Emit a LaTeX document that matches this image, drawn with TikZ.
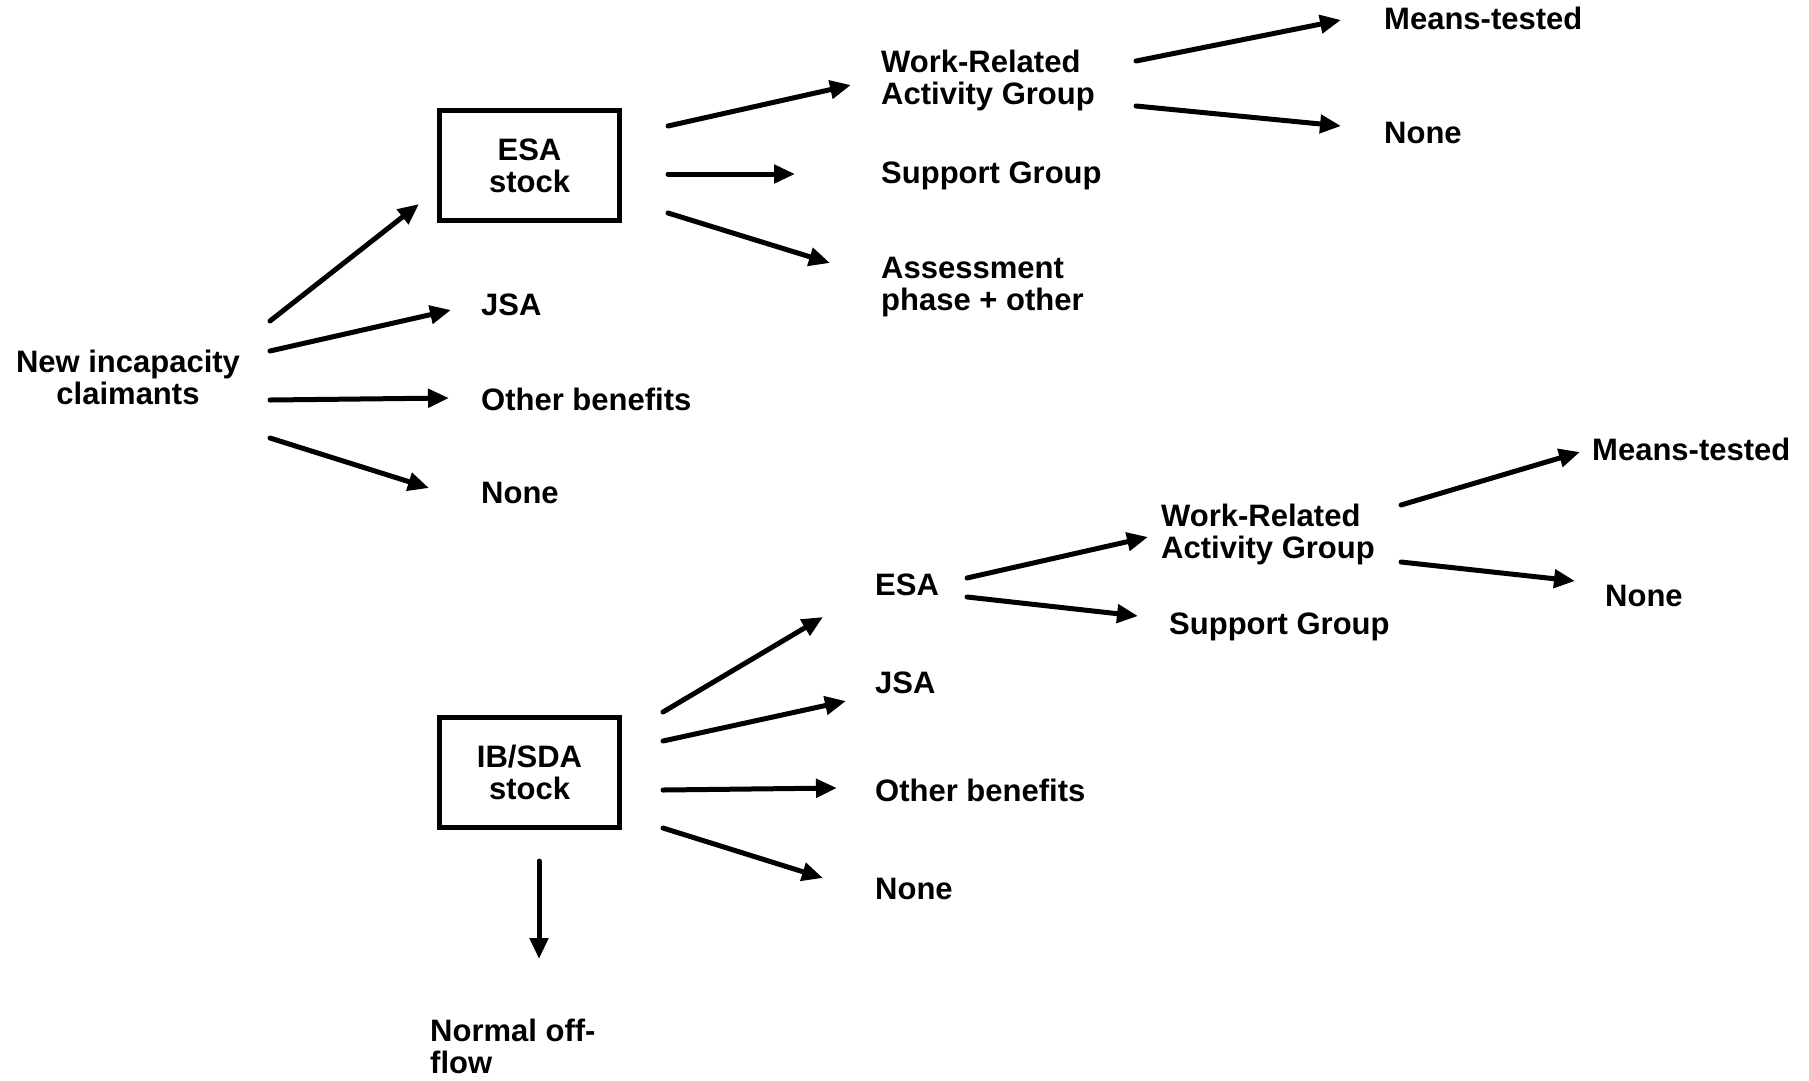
\documentclass[tikz,border=0pt]{standalone}
\usepackage{fontspec}
\setmainfont{Liberation Sans}
\usetikzlibrary{arrows.meta}
\begin{document}
\begin{tikzpicture}[x=1pt,y=-1pt,
  txt/.style={font=\bfseries\fontsize{31}{32}\selectfont},
  lbl/.style={txt, inner sep=0pt, anchor=west, text height=22pt, text depth=0pt},
  lbltwo/.style={txt, inner sep=0pt, anchor=west, align=left},
  stockbox/.style={txt, draw, line width=5pt, minimum width=180pt, minimum height=110pt, align=center, inner sep=0pt},
  flow/.style={line width=5pt, line cap=round, -{Triangle[length=21pt,width=18pt]}}]
\fill[white] (0,0) rectangle (1809,1080);
\useasboundingbox (0,0) rectangle (1809,1080);

% ---- top part ----
\node[txt, align=center, inner sep=0pt] (new) at (128,377) {New incapacity\\claimants};
\node[stockbox] (esa) at (529.5,165.5) {ESA\\stock};
\node[lbl] (jsa1) at (481,304.5) {JSA};
\node[lbl] (oth1) at (481,399) {Other benefits};
\node[lbl] (non1) at (481,492) {None};
\node[lbltwo] (wrag1) at (881,80.5) {Work-Related\\Activity Group};
\node[lbl] (sup1) at (881,172.5) {Support Group};
\node[lbltwo] (ass1) at (881,287) {Assessment\\phase + other};
\node[lbl] (mt1) at (1384,18.5) {Means-tested};
\node[lbl] (non1b) at (1384,132) {None};

% ---- bottom part ----
\node[stockbox] (ib) at (529.5,772.5) {IB/SDA\\stock};
\node[lbl] (esa2) at (875,584.5) {ESA};
\node[lbl] (jsa2) at (875,682.5) {JSA};
\node[lbl] (oth2) at (875,790.5) {Other benefits};
\node[lbl] (non2) at (875,888.5) {None};
\node[lbltwo] (normal) at (430,1046) {Normal off-\\flow};
\node[lbltwo] (wrag2) at (1161,534) {Work-Related\\Activity Group};
\node[lbl] (sup2) at (1169,623.5) {Support Group};
\node[lbl] (mt2) at (1592,449.5) {Means-tested};
\node[lbl] (non2b) at (1605,595.5) {None};

% ---- arrow end points ----
\coordinate (a1s) at (270,321);  \coordinate (a1e) at (419,204);
\coordinate (a2s) at (270,351);  \coordinate (a2e) at (451,310);
\coordinate (a3s) at (270,400);  \coordinate (a3e) at (449,398);
\coordinate (a4s) at (270,438);  \coordinate (a4e) at (429,488);
\coordinate (b1s) at (668,126);  \coordinate (b1e) at (851,85);
\coordinate (b2s) at (668,174);  \coordinate (b2e) at (795,174);
\coordinate (b3s) at (668,213);  \coordinate (b3e) at (830,263);
\coordinate (c1s) at (1136,61);  \coordinate (c1e) at (1341,20);
\coordinate (c2s) at (1136,106); \coordinate (c2e) at (1341,126);
\coordinate (d1s) at (663,712);  \coordinate (d1e) at (823,617);
\coordinate (d2s) at (663,741);  \coordinate (d2e) at (846,701);
\coordinate (d3s) at (663,790);  \coordinate (d3e) at (837,788);
\coordinate (d4s) at (663,828);  \coordinate (d4e) at (823,878);
\coordinate (d5s) at (539,861);  \coordinate (d5e) at (539,959);
\coordinate (e1s) at (967,578);  \coordinate (e1e) at (1148,537);
\coordinate (e2s) at (967,597);  \coordinate (e2e) at (1138,616);
\coordinate (f1s) at (1401,505); \coordinate (f1e) at (1580,452);
\coordinate (f2s) at (1401,562); \coordinate (f2e) at (1575,581);

\foreach \a in {a1,a2,a3,a4,b1,b2,b3,c1,c2,d1,d2,d3,d4,d5,e1,e2,f1,f2}
  \draw[flow] (\a s) -- (\a e);
\end{tikzpicture}
\end{document}
